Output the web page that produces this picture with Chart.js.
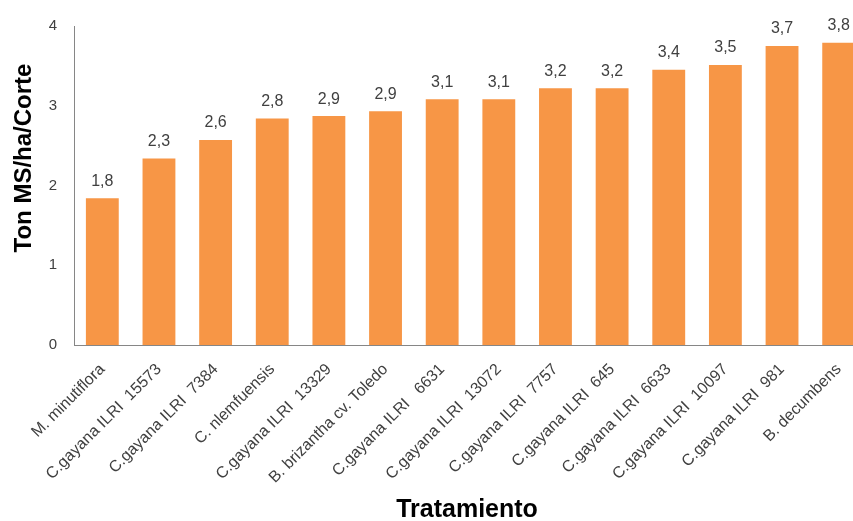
<!DOCTYPE html>
<html>
<head>
<meta charset="utf-8">
<script src="https://cdn.jsdelivr.net/npm/chart.js@4/dist/chart.umd.min.js"></script>
<style>
  html, body { margin: 0; padding: 0; background: #fff; overflow: hidden; }
  #wrap { position: absolute; left: 0; top: 0; width: 870px; height: 521px; }
</style>
</head>
<body>
<div id="wrap"><canvas id="chart" width="870" height="521"></canvas></div>
<script>
var categories = [
    'M. minutiflora',
    'C.gayana ILRI  15573',
    'C.gayana ILRI  7384',
    'C. nlemfuensis',
    'C.gayana ILRI  13329',
    'B. brizantha cv. Toledo',
    'C.gayana ILRI   6631',
    'C.gayana ILRI  13072',
    'C.gayana ILRI  7757',
    'C.gayana ILRI  645',
    'C.gayana ILRI  6633',
    'C.gayana ILRI  10097',
    'C.gayana ILRI  981',
    'B. decumbens'
];
var values = [1.84, 2.34, 2.57, 2.84, 2.87, 2.93, 3.08, 3.08, 3.22, 3.22, 3.45, 3.51, 3.75, 3.79];
var valueLabels = ['1,8', '2,3', '2,6', '2,8', '2,9', '2,9', '3,1', '3,1', '3,2', '3,2', '3,4', '3,5', '3,7', '3,8'];
var yTicks = [0, 1, 2, 3, 4];
var yTitle = 'Ton MS/ha/Corte';
var xTitle = 'Tratamiento';

var fontFamily = '"Liberation Sans", Arial, sans-serif';

// numbers above the bars + axis titles (placed like the original, y title sits above centre)
var extraText = {
    id: 'extraText',
    afterDatasetsDraw: function(chart) {
        var ctx = chart.ctx;
        var meta = chart.getDatasetMeta(0);
        ctx.save();
        ctx.font = '16px ' + fontFamily;
        ctx.fillStyle = '#404040';
        ctx.textAlign = 'center';
        ctx.textBaseline = 'bottom';
        meta.data.forEach(function(bar, i) {
            ctx.fillText(valueLabels[i], bar.x, bar.y - 9);
        });

        ctx.fillStyle = '#000';
        ctx.font = 'bold 25px ' + fontFamily;
        ctx.textBaseline = 'middle';
        ctx.fillText(xTitle, 467, 510);

        ctx.font = 'bold 24px ' + fontFamily;
        ctx.translate(24, 158);
        ctx.rotate(-Math.PI / 2);
        ctx.fillText(yTitle, 0, 0);
        ctx.restore();
    }
};

var ctx = document.getElementById('chart').getContext('2d');
var myChart = new Chart(ctx, {
    type: 'bar',
    data: {
        labels: categories,
        datasets: [{
            data: values,
            backgroundColor: '#F79646',
            borderWidth: 0,
            categoryPercentage: 1,
            barPercentage: 0.58
        }]
    },
    options: {
        responsive: false,
        animation: false,
        layout: { padding: { top: 21, right: 3, left: 0, bottom: 0 } },
        plugins: {
            legend: { display: false },
            tooltip: { enabled: false }
        },
        scales: {
            x: {
                grid: { display: false },
                border: { display: true, color: '#868686', width: 1 },
                ticks: {
                    autoSkip: false,
                    maxRotation: 45,
                    minRotation: 45,
                    padding: 7,
                    color: '#404040',
                    font: { family: fontFamily, size: 16 }
                },
                afterFit: function(s) { s.height = 176; }
            },
            y: {
                min: 0,
                max: 4,
                grid: { display: false, drawTicks: false },
                border: { display: true, color: '#868686', width: 1 },
                afterBuildTicks: function(s) {
                    s.ticks = yTicks.map(function(v) { return { value: v }; });
                },
                ticks: {
                    padding: 17,
                    color: '#404040',
                    font: { family: fontFamily, size: 15 }
                },
                afterFit: function(s) { s.width = 74; }
            }
        }
    },
    plugins: [extraText]
});
</script>
</body>
</html>
